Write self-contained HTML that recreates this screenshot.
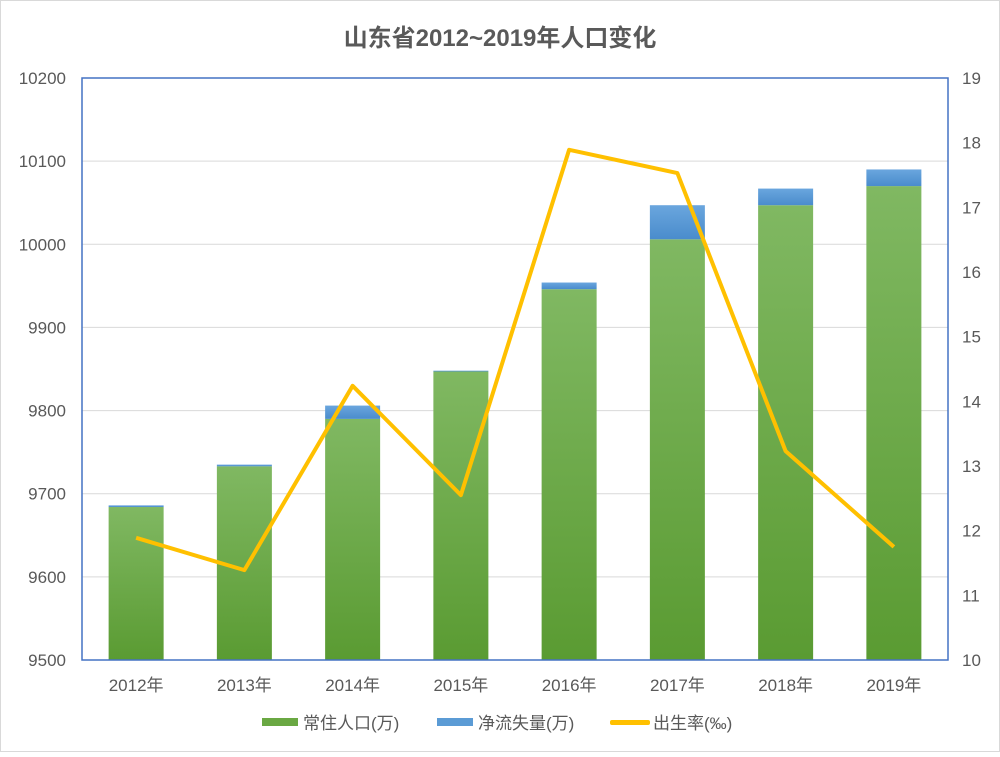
<!DOCTYPE html>
<html><head><meta charset="utf-8"><style>
body{margin:0;background:#fff;}
svg text{font-family:"Liberation Sans","Noto Sans CJK SC",sans-serif;fill:#595959;}
</style></head><body>
<svg id="c" width="1000" height="752" xmlns="http://www.w3.org/2000/svg">
<defs>
<linearGradient id="gg" x1="0" y1="0" x2="0" y2="1"><stop offset="0" stop-color="#80b862"/><stop offset="1" stop-color="#5a9b32"/></linearGradient>
<linearGradient id="bg" x1="0" y1="0" x2="0" y2="1"><stop offset="0" stop-color="#6aa6de"/><stop offset="1" stop-color="#4a8ccc"/></linearGradient>
</defs>
<rect x="0.5" y="0.5" width="999" height="751" fill="#fff" stroke="#d9d9d9"/>
<text x="500" y="46" text-anchor="middle" font-size="24" font-weight="bold">山东省2012~2019年人口变化</text>
<g id="grid"></g><g id="bars"></g><g id="line"></g><g id="axes"></g>
<rect x="82" y="78" width="866" height="582" fill="none" stroke="#4472c4" stroke-width="1.5"/>
<g>
<rect x="262" y="718" width="36" height="8" fill="#6aa843"/>
<text x="303" y="729" font-size="17">常住人口(万)</text>
<rect x="437" y="718" width="36" height="8" fill="#5b9bd5"/>
<text x="478" y="729" font-size="17">净流失量(万)</text>
<rect x="610" y="720" width="40" height="5" rx="2" fill="#ffc000"/>
<text x="653" y="729" font-size="17">出生率(‰)</text>
</g>
</svg>
<script>
const categories=["2012年","2013年","2014年","2015年","2016年","2017年","2018年","2019年"];
const resident=[9684,9733,9790,9847,9946,10006,10047,10070];
const outflow=[2,2,16,1,8,41,20,20];
const birthRate=[11.89,11.39,14.24,12.55,17.89,17.53,13.23,11.75];
const leftTicks=[9500,9600,9700,9800,9900,10000,10100,10200];
const rightTicks=[10,11,12,13,14,15,16,17,18,19];
const NS="http://www.w3.org/2000/svg";
const X0=82,X1=948,Y0=660,Y1=78;
const yL=v=>Y0-(v-9500)/(10200-9500)*(Y0-Y1);
const yR=v=>Y0-(v-10)/(19-10)*(Y0-Y1);
const bw=(X1-X0)/categories.length;
const xc=i=>X0+bw*(i+0.5);
function mk(t,a,p){const e=document.createElementNS(NS,t);for(const k in a)e.setAttribute(k,a[k]);p.appendChild(e);return e;}
const grid=document.getElementById('grid'),axes=document.getElementById('axes'),bars=document.getElementById('bars'),line=document.getElementById('line');
leftTicks.forEach(v=>{
 const l=mk('line',{x1:X0,x2:X1,y1:yL(v),y2:yL(v),stroke:'#d9d9d9'},grid);
 
 
 const t=mk('text',{x:66,y:yL(v)+6,'text-anchor':'end','font-size':17},axes);t.textContent=v;
 
 
});
rightTicks.forEach(v=>{
 const t=mk('text',{x:962,y:yR(v)+6,'font-size':17},axes);t.textContent=v;
 
 
});
categories.forEach((c,i)=>{
 const t=mk('text',{x:xc(i),y:691,'text-anchor':'middle','font-size':17},axes);t.textContent=c;
 
 
 const w=55;
 const g=mk('rect',{x:xc(i)-w/2,y:yL(resident[i]),width:w,height:Y0-yL(resident[i]),fill:'url(#gg)'},bars);
 
 
 const b=mk('rect',{x:xc(i)-w/2,y:yL(resident[i]+outflow[i]),width:w,height:yL(resident[i])-yL(resident[i]+outflow[i]),fill:'url(#bg)'},bars);
 
 
});
const pl=mk('polyline',{points:birthRate.map((v,i)=>xc(i)+','+yR(v)).join(' '),fill:'none',stroke:'#ffc000','stroke-width':4,'stroke-linejoin':'round'},line);


</script>
</body></html>
